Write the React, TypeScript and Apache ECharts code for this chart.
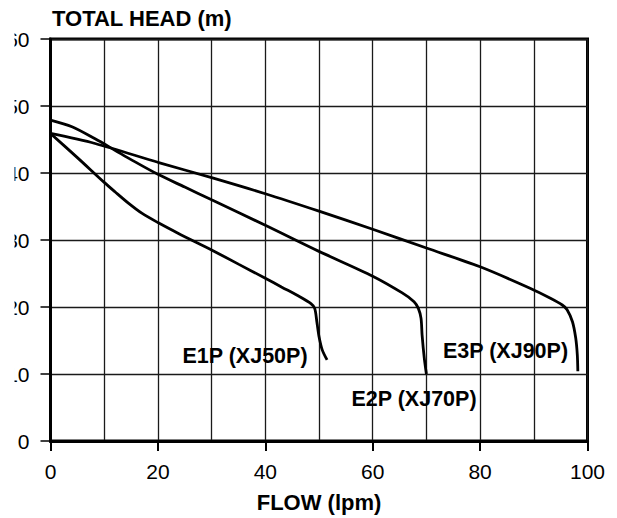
import React, { useEffect, useRef } from "react";
import * as echarts from "echarts";

const xTicks = [0, 20, 40, 60, 80, 100];
const yTicks = [0, 10, 20, 30, 40, 50, 60];

const e1p: [number, number][] = [
  [0, 45.9], [5, 42.3], [10, 38.6], [12, 37.2], [14.5, 35.5], [17, 34.0], [20, 32.6],
  [24, 30.9], [27, 29.7], [30, 28.5], [35, 26.4], [40, 24.3], [43, 23.0], [46.5, 21.5],
  [48.5, 20.5], [49.2, 19.8], [49.6, 17.8], [50, 15.6], [50.6, 13.6], [51.5, 12.1],
];
const e2p: [number, number][] = [
  [0, 47.9], [4, 46.9], [8.3, 45.1], [12, 43.4], [15, 42.0], [20, 39.8], [25, 37.9],
  [30, 36.0], [40, 32.2], [50, 28.3], [60, 24.6], [65.5, 22.1], [67.7, 20.8], [68.5, 19.8],
  [69.0, 18.3], [69.2, 15.8], [69.6, 12.4], [70, 10],
];
const e3p: [number, number][] = [
  [0, 45.9], [8.3, 44.4], [20, 41.6], [30, 39.3], [40, 36.9], [50, 34.3], [60, 31.6],
  [70, 28.8], [80, 26.0], [89.3, 22.8], [93.1, 21.3], [95.3, 20.3], [96.2, 19.6],
  [97.2, 17.8], [97.8, 15.4], [98.1, 12.9], [98.2, 10.4],
];
const seriesNames = ["E1P (XJ50P)", "E2P (XJ70P)", "E3P (XJ90P)"];

const FONT = "'Liberation Sans', Arial, sans-serif";

export default function App() {
  const ref = useRef<HTMLDivElement>(null);
  useEffect(() => {
    if (!ref.current) return;
    const chart = echarts.init(ref.current, undefined, { renderer: "svg" });
    const lineSeries = (name: string, data: [number, number][]) => ({
      name,
      type: "line",
      data,
      showSymbol: false,
      smooth: 0.3,
      lineStyle: { color: "#000", width: 2.8 },
      z: 5,
    });
    const label = (text: string, x: number, y: number) => ({
      type: "text",
      x,
      y,
      style: {
        text,
        fontFamily: FONT,
        fontSize: 21.5,
        fontWeight: "bold",
        fill: "#000",
        textAlign: "center",
        textVerticalAlign: "middle",
      },
      z: 50,
    });
    chart.setOption({
      animation: false,
      backgroundColor: "#fff",
      grid: {
        left: 50.5,
        right: 29.5,
        top: 39,
        bottom: 74.5,
        show: true,
        borderColor: "#000",
        borderWidth: 3,
      },
      xAxis: {
        type: "value",
        min: xTicks[0],
        max: xTicks[xTicks.length - 1],
        interval: 20,
        name: "FLOW (lpm)",
        nameLocation: "middle",
        nameGap: 50,
        nameTextStyle: { fontFamily: FONT, fontSize: 22, fontWeight: "bold", color: "#000" },
        axisLine: { show: true, lineStyle: { color: "#000", width: 3 } },
        axisTick: { show: true, length: 10, lineStyle: { color: "#000", width: 2 } },
        minorTick: { show: false, splitNumber: 2 },
        axisLabel: { fontFamily: FONT, fontSize: 21, color: "#000", margin: 20 },
        splitLine: { show: true, lineStyle: { color: "#1a1a1a", width: 1.3 } },
        minorSplitLine: { show: true, lineStyle: { color: "#1a1a1a", width: 1.3 } },
      },
      yAxis: {
        type: "value",
        min: yTicks[0],
        max: yTicks[yTicks.length - 1],
        interval: 10,
        axisLine: { show: true, lineStyle: { color: "#000", width: 3 } },
        axisTick: { show: true, length: 10, lineStyle: { color: "#000", width: 1.5 } },
        axisLabel: { fontFamily: FONT, fontSize: 21, color: "#000", margin: 21 },
        splitLine: { show: true, lineStyle: { color: "#1a1a1a", width: 1.3 } },
      },
      graphic: [
        {
          type: "rect",
          left: 0,
          top: 0,
          shape: { x: 0, y: 0, width: 14.5, height: 470 },
          style: { fill: "#fff" },
          z: 100,
        },
        {
          type: "text",
          x: 52,
          y: 18,
          style: {
            text: "TOTAL HEAD (m)",
            fontFamily: FONT,
            fontSize: 22,
            fontWeight: "bold",
            fill: "#000",
            textAlign: "left",
            textVerticalAlign: "middle",
          },
          z: 50,
        },
        label(seriesNames[0], 245, 356),
        label(seriesNames[1], 414, 399),
        label(seriesNames[2], 505.5, 351),
      ],
      series: [
        lineSeries(seriesNames[0], e1p),
        lineSeries(seriesNames[1], e2p),
        lineSeries(seriesNames[2], e3p),
      ],
    });
    return () => chart.dispose();
  }, []);
  return (
    <div
      ref={ref}
      style={{ position: "fixed", left: 0, top: 0, width: 617, height: 518, background: "#fff" }}
    />
  );
}
